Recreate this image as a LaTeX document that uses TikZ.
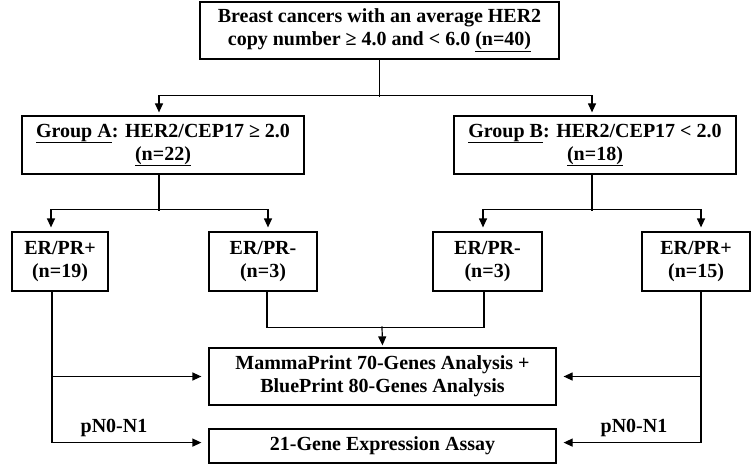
\documentclass[tikz,border=0pt]{standalone}
\usepackage{fontspec}
\setmainfont{Liberation Serif}
\usetikzlibrary{arrows.meta,calc}
\begin{document}
\begin{tikzpicture}[x=1pt,y=-1pt,
  box/.style={draw,line width=1.2pt,align=center,inner sep=0pt,font=\bfseries\fontsize{20}{23}\selectfont},
  ln/.style={line width=1.2pt},
  arr/.style={line width=1.2pt,-{Triangle[length=9pt,width=8pt]},shorten >=4pt},
  lbl/.style={font=\bfseries\fontsize{20}{23}\selectfont,inner sep=0pt}]
\useasboundingbox (0,0) rectangle (751,465);
\node[box,minimum width=359pt,minimum height=57pt] (top) at (379.5,30.5) {Breast cancers with an average HER2\\copy number ≥ 4.0 and < 6.0 \underline{(n=40)}};
\node[box,minimum width=282pt,minimum height=58pt] (ga) at (163,145) {\underline{Group A}: HER2/CEP17 ≥ 2.0\\\underline{(n=22)}};
\node[box,minimum width=282pt,minimum height=58pt] (gb) at (595,145) {\underline{Group B}: HER2/CEP17 < 2.0\\\underline{(n=18)}};
\node[box,minimum width=96pt,minimum height=59pt] (e1) at (60,261.5) {ER/PR+\\(n=19)};
\node[box,minimum width=108pt,minimum height=59pt] (e2) at (263,261.5) {ER/PR-\\(n=3)};
\node[box,minimum width=109pt,minimum height=59pt] (e3) at (487.5,261.5) {ER/PR-\\(n=3)};
\node[box,minimum width=108pt,minimum height=59pt] (e4) at (696,261.5) {ER/PR+\\(n=15)};
\node[box,minimum width=347pt,minimum height=57pt] (mp) at (382.5,376.5) {MammaPrint 70-Genes Analysis +\\BluePrint 80-Genes Analysis};
\node[box,minimum width=347pt,minimum height=34pt] (g21) at (382.5,446) {21-Gene Expression Assay};
% top split
\coordinate (j0) at ($(top.south)+(0,37)$);
\draw[ln] (top.south) -- (j0);
\coordinate (ja) at ($(ga.north)+(-4,-20)$);
\coordinate (jb) at ($(gb.north)+(-3,-20)$);
\draw[ln] (ja) -- (jb);
\draw[arr,shorten >=3pt] (ja) -- (ja |- ga.north);
\draw[arr,shorten >=3pt] (jb) -- (jb |- gb.north);
% group A split
\coordinate (ka) at ($(ga.south)+(-4,0)$);
\coordinate (ka2) at ($(ka)+(0,36)$);
\coordinate (k1) at ($(e1.north)+(-9,-22)$);
\coordinate (k2) at ($(e2.north)+(5,-22)$);
\draw[ln] (ka) -- (ka2);
\draw[ln] (k1) -- (k2);
\draw[arr] (k1) -- (k1 |- e1.north);
\draw[arr] (k2) -- (k2 |- e2.north);
% group B split
\coordinate (kb) at ($(gb.south)+(-3,0)$);
\coordinate (kb2) at ($(kb)+(0,36)$);
\coordinate (k3) at ($(e3.north)+(-4.5,-22)$);
\coordinate (k4) at ($(e4.north)+(5,-22)$);
\draw[ln] (kb) -- (kb2);
\draw[ln] (k3) -- (k4);
\draw[arr] (k3) -- (k3 |- e3.north);
\draw[arr] (k4) -- (k4 |- e4.north);
% ER/PR- merge
\coordinate (m2) at ($(e2.south)+(4,0)$);
\coordinate (m3) at ($(e3.south)+(-3.5,0)$);
\draw[ln] (m2) -- ++(0,36) -| (m3);
\coordinate (mm) at ($(mp.north)+(-0.5,-21)$);
\draw[arr,shorten >=2pt] (mm) -- (mp.north);
% left ER/PR+
\coordinate (l1) at ($(e1.south)+(-8,0)$);
\draw[ln] (l1) -- ++(0,151) coordinate (l1b);
\draw[arr,shorten >=7pt] (l1 |- mp.west) -- (mp.west);
\draw[arr,shorten >=7pt] (l1b) -- (l1b -| g21.west);
% right ER/PR+
\coordinate (r1) at ($(e4.south)+(5,0)$);
\draw[ln] (r1) -- ++(0,151) coordinate (r1b);
\draw[arr,shorten >=7pt] (r1 |- mp.east) -- (mp.east);
\draw[arr,shorten >=7pt] (r1b) -- (r1b -| g21.east);
\node[lbl] (p1) at (114,428) {pN0-N1};
\node[lbl] (p2) at (634,428) {pN0-N1};
\end{tikzpicture}
\end{document}
